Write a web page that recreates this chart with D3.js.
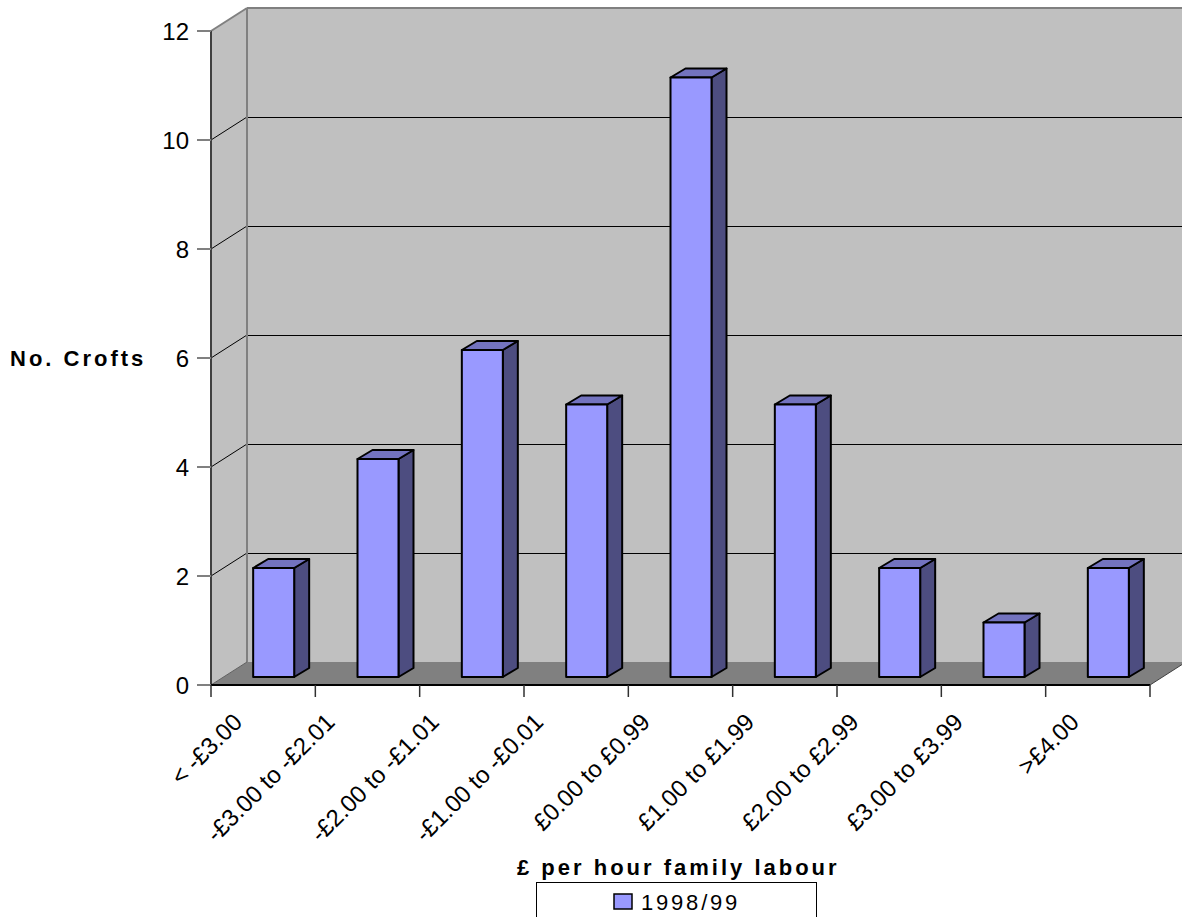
<!DOCTYPE html>
<html>
<head>
<meta charset="utf-8">
<script src="https://cdn.jsdelivr.net/npm/d3@7"></script>
<style>
  html, body { margin: 0; padding: 0; background: #fff; }
  svg { display: block; font-family: "Liberation Sans", Arial, sans-serif; }
</style>
</head>
<body>
<svg id="chart" width="1182" height="917"></svg>
<script>
// Crofts by return per hour of family labour, 1998/99
const categories = [
  "< -£3.00", "-£3.00 to -£2.01", "-£2.00 to -£1.01", "-£1.00 to -£0.01",
  "£0.00 to £0.99", "£1.00 to £1.99", "£2.00 to £2.99", "£3.00 to £3.99", ">£4.00"
];
const crofts = [2, 4, 6, 5, 11, 5, 2, 1, 2];
const yTicks = [0, 2, 4, 6, 8, 10, 12];
const seriesName = "1998/99";
const xTitle = "£ per hour family labour";
const yTitle = "No. Crofts";

const svg = d3.select("#chart");

// front plane of the 3D box
const x = d3.scaleBand().domain(categories).range([211, 1150]).paddingInner(0).paddingOuter(0);
const y = d3.scaleLinear().domain([0, 12]).range([685, 31]);
// receding depth of the box (x, y offset)
const DX = 36, DY = -23;
// bar placement within the depth
const BAR_W = 41, BAR_FX = 10.5, BAR_FY = -8, BAR_DX = 15, BAR_DY = -9;

const x0 = x.range()[0], x1 = x.range()[1];
const yTop = y(12), yBot = y(0);

const gWalls = svg.append("g");
// back wall
gWalls.append("polygon")
  .attr("points", [[x0 + DX, yTop + DY], [x1 + DX, yTop + DY], [x1 + DX, yBot + DY], [x0 + DX, yBot + DY]].join(" "))
  .attr("fill", "#c0c0c0");
// side wall
gWalls.append("polygon")
  .attr("points", [[x0, yTop], [x0 + DX, yTop + DY], [x0 + DX, yBot + DY], [x0, yBot]].join(" "))
  .attr("fill", "#c0c0c0");
// floor
gWalls.append("polygon")
  .attr("points", [[x0, yBot], [x0 + DX, yBot + DY], [x1 + DX, yBot + DY], [x1, yBot]].join(" "))
  .attr("fill", "#808080");

// gridlines on back and side wall
const grid = yTicks.filter(d => d > 0 && d < 12);
gWalls.selectAll("line.gback").data(grid).join("line")
  .attr("x1", x0 + DX).attr("x2", x1 + DX)
  .attr("y1", d => y(d) + DY + 0.5).attr("y2", d => y(d) + DY + 0.5)
  .attr("stroke", "#000").attr("stroke-width", 1);
gWalls.selectAll("line.gside").data(grid).join("line")
  .attr("x1", x0).attr("x2", x0 + DX)
  .attr("y1", d => y(d)).attr("y2", d => y(d) + DY)
  .attr("stroke", "#000").attr("stroke-width", 1);

// wall edges
const edge = (a, b, c, w) => gWalls.append("line")
  .attr("x1", a[0]).attr("y1", a[1]).attr("x2", b[0]).attr("y2", b[1])
  .attr("stroke", c).attr("stroke-width", w);
edge([x0 + DX, yTop + DY], [x0 + DX, yBot + DY], "#808080", 2);
edge([x0 + DX, yTop + DY], [x1 + DX, yTop + DY], "#808080", 2);
edge([x0, yTop], [x0 + DX, yTop + DY], "#808080", 2);
edge([x1, yBot], [x1 + DX, yBot + DY], "#404040", 1);
edge([x0, yBot], [x0 + DX, yBot + DY], "#606060", 1);

// bars
const gBars = svg.append("g");
crofts.forEach((v, i) => {
  const c = categories[i];
  const bx = x(c) + x.bandwidth() / 2 + BAR_FX - BAR_W / 2;
  const by0 = y(0) + BAR_FY;
  const by1 = y(v) + BAR_FY;
  const bar = gBars.append("g").attr("stroke", "#000").attr("stroke-width", 2).attr("stroke-linejoin", "round");
  bar.append("polygon")
    .attr("points", [[bx + BAR_W, by1], [bx + BAR_W + BAR_DX, by1 + BAR_DY], [bx + BAR_W + BAR_DX, by0 + BAR_DY], [bx + BAR_W, by0]].join(" "))
    .attr("fill", "#4d4d80");
  bar.append("polygon")
    .attr("points", [[bx, by1], [bx + BAR_DX, by1 + BAR_DY], [bx + BAR_W + BAR_DX, by1 + BAR_DY], [bx + BAR_W, by1]].join(" "))
    .attr("fill", "#7373bf");
  bar.append("rect")
    .attr("x", bx).attr("y", by1).attr("width", BAR_W).attr("height", by0 - by1)
    .attr("fill", "#9999ff");
});

// y axis
const gY = svg.append("g");
gY.append("line").attr("x1", x0).attr("x2", x0).attr("y1", yTop).attr("y2", yBot)
  .attr("stroke", "#404040").attr("stroke-width", 2);
gY.selectAll("line.tick").data(yTicks).join("line")
  .attr("x1", x0 - 14).attr("x2", x0).attr("y1", d => y(d)).attr("y2", d => y(d))
  .attr("stroke", "#808080").attr("stroke-width", 2);
gY.selectAll("text").data(yTicks).join("text")
  .attr("x", x0 - 22).attr("y", d => y(d)).attr("dy", "0.36em")
  .attr("text-anchor", "end").attr("font-size", 24)
  .text(d => d);

// x axis
const gX = svg.append("g");
gX.append("line").attr("x1", x0).attr("x2", x1).attr("y1", yBot).attr("y2", yBot)
  .attr("stroke", "#000").attr("stroke-width", 2);
const bounds = categories.map(c => x(c)).concat([x1]);
gX.selectAll("line.tick").data(bounds).join("line")
  .attr("x1", d => d).attr("x2", d => d).attr("y1", yBot).attr("y2", yBot + 12)
  .attr("stroke", "#303030").attr("stroke-width", 1.5);
// slanted category labels; longer labels sit a little further left
gX.selectAll("text").data(categories).join("text")
  .attr("text-anchor", "end").attr("font-size", 24)
  .text(c => c)
  .attr("transform", function (c) {
    const w = this.getComputedTextLength();
    const ex = x(c) + x.bandwidth() / 2 - 6.5 - 0.147 * w;
    return `translate(${ex},${yBot + 38.5}) rotate(-45)`;
  });

// axis titles
svg.append("text").attr("x", 517).attr("y", 875)
  .attr("font-size", 22).attr("font-weight", "bold").attr("letter-spacing", "3px")
  .text(xTitle);
svg.append("text").attr("x", 10).attr("y", 366)
  .attr("font-size", 22).attr("font-weight", "bold").attr("letter-spacing", "3px")
  .text(yTitle);

// legend
const gL = svg.append("g");
gL.append("rect").attr("x", 536.5).attr("y", 882.5).attr("width", 280).attr("height", 60)
  .attr("fill", "#fff").attr("stroke", "#000").attr("stroke-width", 1);
gL.append("rect").attr("x", 614).attr("y", 894).attr("width", 18).attr("height", 15)
  .attr("fill", "#9999ff").attr("stroke", "#000").attr("stroke-width", 1.5);
gL.append("text").attr("x", 641).attr("y", 910)
  .attr("font-size", 22).attr("letter-spacing", "2.8px")
  .text(seriesName);
</script>
</body>
</html>
